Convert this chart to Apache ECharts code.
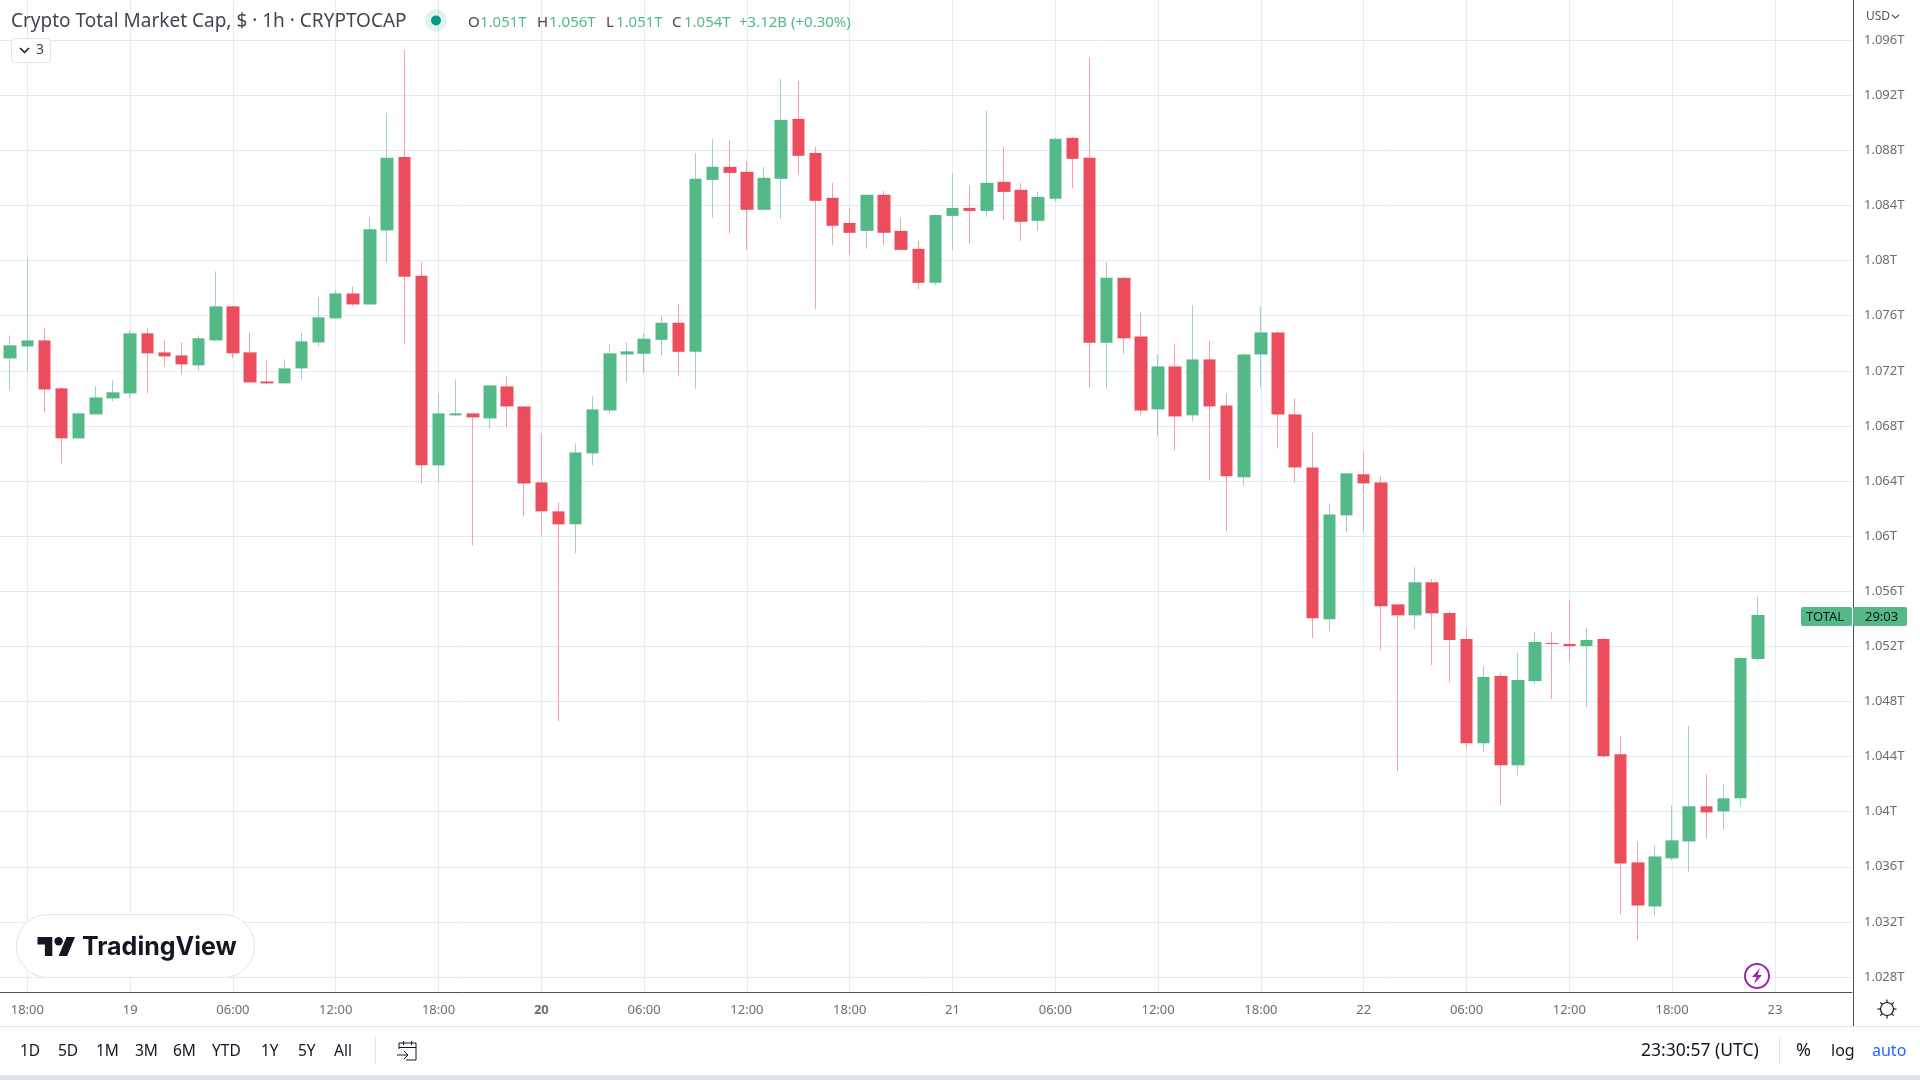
<!DOCTYPE html>
<html>
<head>
<meta charset="utf-8">
<title>Crypto Total Market Cap</title>
<script src="https://cdn.jsdelivr.net/npm/echarts@6/dist/echarts.min.js"></script>
<style>
    html, body { margin: 0; padding: 0; background: #fff; }
    #main { width: 1920px; height: 1080px; }
</style>
</head>
<body>
<div id="main"></div>
<script>
// hourly categories, first one (16:00) is empty so the first candle can sit at the left edge
var timeLabels = [
    '16:00','17:00','18:00','19:00','20:00','21:00','22:00','23:00',
    '19','01:00','02:00','03:00','04:00','05:00','06:00','07:00','08:00','09:00','10:00','11:00','12:00','13:00','14:00','15:00','16:00','17:00','18:00','19:00','20:00','21:00','22:00','23:00',
    '20','01:00','02:00','03:00','04:00','05:00','06:00','07:00','08:00','09:00','10:00','11:00','12:00','13:00','14:00','15:00','16:00','17:00','18:00','19:00','20:00','21:00','22:00','23:00',
    '21','01:00','02:00','03:00','04:00','05:00','06:00','07:00','08:00','09:00','10:00','11:00','12:00','13:00','14:00','15:00','16:00','17:00','18:00','19:00','20:00','21:00','22:00','23:00',
    '22','01:00','02:00','03:00','04:00','05:00','06:00','07:00','08:00','09:00','10:00','11:00','12:00','13:00','14:00','15:00','16:00','17:00','18:00','19:00','20:00','21:00','22:00','23:00',
    '23','01:00','02:00','03:00','04:00'
];

// values in billions of USD
var opens = [
    1072.90,1073.77,1074.21,1070.73,1067.10,1068.84,1070.00,1070.36,1074.72,1073.34,
    1073.12,1072.40,1074.21,1076.68,1073.34,1071.23,1071.09,1072.18,1074.06,1075.81,
    1077.62,1076.82,1082.19,1087.53,1078.90,1065.14,1068.77,1068.91,1068.55,1070.87,
    1069.42,1063.90,1061.80,1060.86,1066.01,1069.13,1073.19,1073.24,1074.25,1075.49,
    1073.38,1085.86,1086.81,1086.45,1083.69,1085.94,1090.29,1087.82,1084.56,1082.74,
    1082.16,1084.78,1082.16,1080.86,1078.39,1083.25,1083.83,1083.61,1085.72,1085.14,
    1082.89,1084.49,1088.91,1087.46,1074.04,1078.75,1074.50,1069.20,1072.32,1068.77,
    1072.83,1069.49,1064.27,1073.19,1074.79,1068.84,1064.99,1053.96,1061.51,1064.49,
    1063.90,1055.05,1054.25,1056.65,1054.42,1052.53,1044.97,1049.84,1043.37,1049.48,
    1052.24,1052.17,1052.02,1052.53,1044.17,1036.32,1033.12,1036.61,1037.84,1040.39,
    1040.02,1040.97,1051.08
];
var closes = [
    1073.85,1074.21,1070.65,1067.10,1068.91,1070.07,1070.44,1074.72,1073.27,1073.05,
    1072.47,1074.36,1076.68,1073.27,1071.16,1071.09,1072.18,1074.14,1075.88,1077.62,
    1076.82,1082.27,1087.46,1078.83,1065.14,1068.91,1068.91,1068.62,1070.94,1069.42,
    1063.83,1061.80,1060.86,1066.08,1069.20,1073.27,1073.41,1074.33,1075.49,1073.38,
    1085.94,1086.81,1086.37,1083.69,1086.01,1090.22,1087.61,1084.34,1082.53,1082.02,
    1084.78,1082.02,1080.78,1078.39,1083.32,1083.83,1083.61,1085.65,1084.99,1082.82,
    1084.63,1088.84,1087.39,1074.04,1078.75,1074.36,1069.13,1072.32,1068.69,1072.83,
    1069.42,1064.34,1073.19,1074.79,1068.84,1064.99,1054.04,1061.58,1064.56,1063.83,
    1054.91,1054.25,1056.65,1054.40,1052.46,1044.97,1049.77,1043.37,1049.55,1052.32,
    1052.17,1052.02,1052.46,1044.02,1036.24,1033.19,1036.75,1037.92,1040.39,1039.95,
    1040.97,1051.15,1054.28
];
var highs = [
    1074.57,1080.23,1075.08,1070.80,1068.99,1070.87,1071.31,1074.94,1075.08,1074.21,
    1074.06,1074.57,1079.22,1076.75,1074.79,1072.76,1072.83,1074.79,1077.33,1077.84,
    1078.13,1083.14,1090.73,1095.30,1079.91,1070.29,1071.38,1068.91,1070.94,1071.60,
    1069.49,1067.46,1062.45,1066.74,1070.15,1073.92,1074.06,1074.76,1076.00,1076.87,
    1087.82,1088.84,1088.77,1087.24,1086.81,1093.19,1093.05,1088.26,1085.65,1083.83,
    1084.78,1085.07,1083.11,1081.44,1083.40,1086.37,1085.43,1090.87,1088.26,1085.65,
    1084.99,1088.91,1088.98,1094.72,1079.91,1078.83,1076.24,1073.19,1073.92,1076.75,
    1074.14,1070.36,1073.27,1076.68,1074.86,1070.00,1067.53,1062.38,1064.56,1066.08,
    1064.34,1055.05,1057.74,1056.87,1054.57,1053.26,1050.57,1050.06,1051.52,1053.04,
    1053.04,1055.37,1053.33,1052.61,1045.48,1037.84,1037.55,1040.46,1046.21,1042.71,
    1041.99,1051.22,1055.60
];
var lows = [
    1070.58,1071.96,1068.99,1065.28,1067.03,1068.84,1069.78,1070.00,1070.36,1072.32,
    1071.74,1072.03,1074.21,1072.90,1071.16,1071.02,1071.09,1071.38,1073.77,1075.81,
    1076.68,1076.82,1079.91,1073.96,1063.83,1063.90,1068.69,1059.33,1067.75,1067.90,
    1061.44,1060.06,1046.56,1058.75,1065.14,1068.91,1071.23,1071.79,1073.09,1071.64,
    1070.70,1083.11,1081.95,1080.78,1083.69,1083.03,1086.30,1076.50,1081.15,1080.42,
    1080.86,1081.08,1080.78,1077.95,1078.24,1080.78,1081.22,1083.18,1082.96,1081.44,
    1082.16,1084.27,1085.28,1070.77,1070.70,1073.24,1068.77,1067.24,1066.23,1068.33,
    1064.05,1060.35,1063.69,1070.80,1066.37,1063.90,1052.58,1053.09,1060.28,1060.35,
    1051.73,1042.93,1053.24,1050.64,1049.41,1044.53,1044.32,1040.46,1042.64,1049.26,
    1048.17,1050.93,1047.59,1043.88,1032.53,1030.64,1032.46,1036.46,1035.59,1038.06,
    1038.71,1040.39,1050.93
];
var priceTicks = [1028,1032,1036,1040,1044,1048,1052,1056,1060,1064,1068,1072,1076,1080,1084,1088,1092,1096];
var rangeButtons = [['1D',20],['5D',58],['1M',96],['3M',135],['6M',173],['YTD',212],['1Y',261],['5Y',298],['All',334]];
// header readout: [text, left edge, is it a value]
var readout = [['O',468,0],['1.051T',480,1],['H',537,0],['1.056T',549,1],['L',606,0],['1.051T',616,1],['C',672,0],['1.054T',684,1],['+3.12B (+0.30%)',739,1]];

var FONT = '"Noto Sans", sans-serif';
var UP = '#53b987', DOWN = '#eb4d5c', UP_WICK = '#a3cdcf', DOWN_WICK = '#f99ea9';
var GRID = '#e1ecf2', AXIS = '#50535e', LABEL = '#6a6d78', INK = '#131722', EDGE = '#e0e3eb';

// wicks and bodies are two series because the wick has its own lighter colour
var wickData = [['-','-','-','-']], bodyData = [['-','-','-','-']];
for (var i = 0; i < opens.length; i++) {
    wickData.push([opens[i], closes[i], lows[i], highs[i]]);
    bodyData.push([opens[i], closes[i], Math.min(opens[i], closes[i]), Math.max(opens[i], closes[i])]);
}

function isTimeTick(index) {
    return (index - 2) % 6 === 0;
}

function txt(text, x, y, size, fill, extra) {
    var style = { text: text, x: x, y: y, font: size + 'px ' + FONT, fill: fill, align: 'left', verticalAlign: 'middle' };
    for (var k in extra) style[k] = extra[k];
    return { type: 'text', z: 20, silent: true, style: style };
}
function line(x1, y1, x2, y2, color, width) {
    return { type: 'line', z: 20, silent: true, shape: { x1: x1, y1: y1, x2: x2, y2: y2 }, style: { stroke: color, lineWidth: width || 1 } };
}
function box(x, y, w, h, r, fill, stroke, z) {
    return { type: 'rect', z: z || 20, silent: true, shape: { x: x, y: y, width: w, height: h, r: r }, style: { fill: fill, stroke: stroke || null, lineWidth: stroke ? 1 : 0 } };
}
function poly(points, fill) {
    return { type: 'polygon', z: 21, silent: true, shape: { points: points }, style: { fill: fill } };
}

var overlay = [
    // header
    txt('Crypto Total Market Cap, $ · 1h · CRYPTOCAP', 11, 22, 19, '#434651'),
    { type: 'circle', z: 20, silent: true, shape: { cx: 436, cy: 20.5, r: 11 }, style: { fill: 'rgba(8,153,129,0.13)' } },
    { type: 'circle', z: 21, silent: true, shape: { cx: 436, cy: 20.5, r: 5 }, style: { fill: '#089981' } },
    box(11.5, 38.5, 39, 24, 4, '#fff', EDGE),
    { type: 'polyline', z: 21, silent: true, shape: { points: [[20, 48], [24.5, 52.5], [29, 48]] }, style: { stroke: INK, lineWidth: 1.5, fill: null } },
    txt('3', 36, 50, 14, '#434651'),

    // TradingView mark
    box(16.5, 914.5, 238, 63, 31, '#fff', EDGE),
    poly([[52.3, 956], [44.9, 956], [44.9, 944.4], [37.5, 944.4], [37.5, 937], [52.3, 937]], INK),
    poly([[67.1, 956], [58.6, 956], [66.5, 937], [75, 937]], INK),
    { type: 'circle', z: 21, silent: true, shape: { cx: 58.6, cy: 941.2, r: 4.2 }, style: { fill: INK } },
    txt('TradingView', 82, 947, 25, INK, { font: '700 25px Inter, sans-serif' }),

    // covers for the strip under the chart
    box(0, 1027, 1920, 48, 0, '#fff', null, 19),
    box(0, 1075, 1920, 5, 0, EDGE, null, 19),
    line(0, 1026.5, 1920, 1026.5, EDGE),
    line(1853.5, 992, 1853.5, 1026, AXIS),
    line(375.5, 1037, 375.5, 1065, EDGE),
    line(1779.5, 1037, 1779.5, 1065, EDGE),

    // calendar icon
    { type: 'polyline', z: 21, silent: true, shape: { points: [[399, 1049], [399, 1043], [416, 1043], [416, 1060], [406, 1060]] }, style: { stroke: INK, lineWidth: 1, fill: null } },
    line(399, 1047.5, 416, 1047.5, INK),
    line(403.5, 1041, 403.5, 1045, INK),
    line(411.5, 1041, 411.5, 1045, INK),
    { type: 'polyline', z: 21, silent: true, shape: { points: [[397, 1055], [408, 1055], [404, 1051], [408, 1055], [404, 1059]] }, style: { stroke: INK, lineWidth: 1, fill: null } },

    // bottom right
    txt('23:30:57 (UTC)', 1641, 1051, 17.5, INK),
    txt('%', 1796, 1051, 18, INK),
    txt('log', 1831, 1051, 16, INK),
    txt('auto', 1872, 1051, 16, '#2962ff'),

    // price axis extras
    txt('USD', 1866, 17, 12, '#50535e'),
    { type: 'polyline', z: 21, silent: true, shape: { points: [[1892, 15], [1895.5, 18], [1899, 15]] }, style: { stroke: '#50535e', lineWidth: 1.2, fill: null } },

    // last price tag
    box(1801, 607, 51, 19, 2, UP),
    box(1853, 607, 54, 19, 2, UP),
    txt('TOTAL', 1806, 617, 13, INK),
    txt('29:03', 1865, 617, 13, INK),

    // lightning badge
    { type: 'circle', z: 20, silent: true, shape: { cx: 1757, cy: 976, r: 12 }, style: { fill: '#fff', stroke: '#9c27b0', lineWidth: 2 } },
    poly([[1760, 968], [1752, 977], [1756.5, 977], [1754, 984], [1762, 975], [1757.5, 975]], '#9c27b0'),

    // settings gear
    { type: 'circle', z: 20, silent: true, shape: { cx: 1887, cy: 1009, r: 6.5 }, style: { fill: '#fff', stroke: INK, lineWidth: 1.2 } },
    line(1887, 999.5, 1887, 1002, INK, 1.2),
    line(1887, 1016, 1887, 1018.5, INK, 1.2),
    line(1877.5, 1009, 1880, 1009, INK, 1.2),
    line(1894, 1009, 1896.5, 1009, INK, 1.2),
    line(1880.3, 1002.3, 1882.1, 1004.1, INK, 1.2),
    line(1891.9, 1013.9, 1893.7, 1015.7, INK, 1.2),
    line(1880.3, 1015.7, 1882.1, 1013.9, INK, 1.2),
    line(1891.9, 1004.1, 1893.7, 1002.3, INK, 1.2)
];
rangeButtons.forEach(function (b) {
    overlay.push(txt(b[0], b[1], 1051.5, 15.5, INK));
});
readout.forEach(function (r) {
    overlay.push(txt(r[0], r[1], 22.5, 15, r[2] ? UP : '#434651'));
});

var option = {
    animation: false,
    backgroundColor: '#fff',
    textStyle: { fontFamily: FONT },
    grid: { left: -15.5, right: 68, top: 0, height: 992, outerBoundsMode: 'none' },
    xAxis: {
        type: 'category',
        data: timeLabels,
        boundaryGap: true,
        axisLine: { lineStyle: { color: AXIS, width: 1 } },
        axisTick: { show: false, alignWithLabel: true, interval: function (index) { return isTimeTick(index); } },
        splitLine: {
            show: true,
            alignWithLabel: true,
            interval: function (index) { return isTimeTick(index); },
            lineStyle: { color: GRID, width: 1 }
        },
        axisLabel: {
            interval: function (index) { return isTimeTick(index); },
            color: LABEL,
            fontFamily: FONT,
            fontSize: 13,
            margin: 12,
            hideOverlap: false,
            formatter: function (value) {
                return value === '20' ? '{bold|20}' : value;
            },
            rich: { bold: { fontWeight: 'bold', fontSize: 13, color: LABEL, fontFamily: FONT } }
        }
    },
    yAxis: {
        type: 'value',
        position: 'right',
        offset: 1,
        min: 1026.91,
        max: 1098.92,
        axisLine: { show: true, lineStyle: { color: AXIS, width: 1 } },
        axisTick: { show: false, customValues: priceTicks },
        splitLine: { show: true, lineStyle: { color: GRID, width: 1 } },
        axisLabel: {
            customValues: priceTicks,
            color: LABEL,
            fontFamily: FONT,
            fontSize: 13,
            margin: 11,
            align: 'left',
            padding: [4, 0, 0, 0],
            formatter: function (value) {
                return Number((value / 1000).toFixed(3)) + 'T';
            }
        }
    },
    series: [
        {
            name: 'wick',
            type: 'candlestick',
            data: wickData,
            barWidth: 1,
            itemStyle: { color: UP_WICK, color0: DOWN_WICK, borderColor: UP_WICK, borderColor0: DOWN_WICK, borderWidth: 1 }
        },
        {
            name: 'body',
            type: 'candlestick',
            data: bodyData,
            barWidth: 13,
            itemStyle: { color: UP, color0: DOWN, borderColor: UP, borderColor0: DOWN, borderWidth: 0 }
        }
    ],
    graphic: { elements: overlay }
};

var chart = echarts.init(document.getElementById('main'));
chart.setOption(option);
</script>
</body>
</html>
